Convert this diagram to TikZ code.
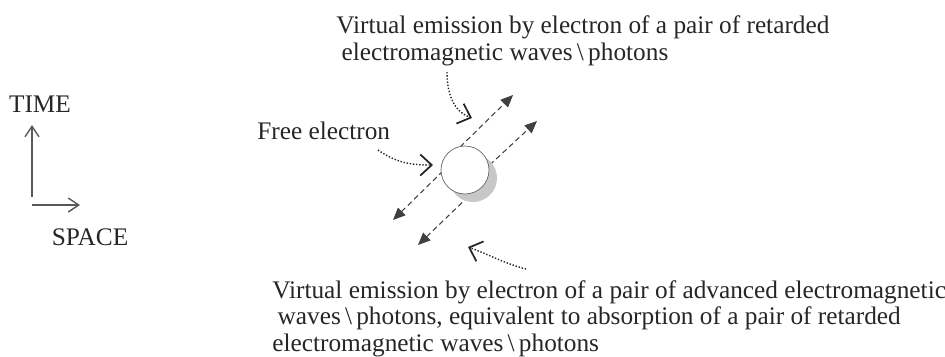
\documentclass[tikz,border=0pt]{standalone}
\usepackage{fontspec}
\setmainfont{Liberation Serif}
\usetikzlibrary{arrows.meta, positioning}

\begin{document}
\begin{tikzpicture}[x=0.02cm, y=-0.02cm,
    lbl/.style={font=\fontsize{14.4}{15}\selectfont, text=black!85, inner sep=0pt, align=left},
    wave/.style={densely dashed, draw=black!75, line width=0.6pt,
      {Triangle[length=7pt,width=6pt]}-{Triangle[length=7pt,width=6pt]}},
    pointer/.style={densely dotted, draw=black!85, line width=0.8pt,
      -{Straight Barb[length=6.5pt,width=12pt,line width=1pt]}},
    axis/.style={draw=black!65, line width=0.8pt, -{Straight Barb[length=6pt,width=8pt]}},
    disc/.style={circle, inner sep=0pt, minimum size=0.96cm}]
    % bounding box
    \useasboundingbox (0,0) rectangle (945,356);

    % time / space axes
    \coordinate (t0) at (32,197);
    \coordinate (t1) at (32,125);
    \coordinate (s0) at (32,205);
    \coordinate (s1) at (80,205);
    \draw[axis] (t0) -- (t1);
    \draw[axis] (s0) -- (s1);
    \node[lbl, anchor=base] (time) at (40,112) {TIME};
    \node[lbl, anchor=base] (space) at (90,245) {SPACE};

    % the two pairs of waves
    \coordinate (a1) at (393,220);
    \coordinate (a2) at (447,167);
    \coordinate (a3) at (455,152);
    \coordinate (a4) at (513,95);
    \coordinate (b1) at (418,245);
    \coordinate (b2) at (470,195);
    \coordinate (b3) at (480,174);
    \coordinate (b4) at (537,121);
    \draw[wave] (a1) -- (a2) -- (a3) -- (a4);
    \draw[wave] (b1) -- (b2) -- (b3) -- (b4);

    % electron with its shadow
    \node[disc, fill=black!22] (shadow) at (473,178) {};
    \node[disc, fill=white, draw=black!60, line width=0.4pt] (electron) at (465,170) {};

    % labels
    \node[lbl, anchor=base west] (free) at (257,139) {Free electron};
    \node[lbl, anchor=base west] (retarded) at (336,60)
      {Virtual emission by electron of a pair of retarded\\
       \hspace{3pt}electromagnetic waves\,\textbackslash\,photons};
    \node[lbl, anchor=base west] (advanced) at (272,351)
      {Virtual emission by electron of a pair of advanced electromagnetic\\
       \hspace{3pt}waves\,\textbackslash\,photons, equivalent to absorption of a pair of retarded\\
       electromagnetic waves\,\textbackslash\,photons};

    % pointers
    \coordinate (p1) at (378,150);
    \coordinate (q1) at (433,165);
    \coordinate (p2) at (447,72);
    \coordinate (q2) at (472,118);
    \coordinate (p3) at (526,269);
    \coordinate (q3) at (468,247);
    \draw[pointer] (p1) to[out=-35, in=180] (q1);
    \draw[pointer] (p2) to[out=-90, in=160] (q2);
    \draw[pointer] (p3) to[out=165, in=-20] (q3);
\end{tikzpicture}
\end{document}
